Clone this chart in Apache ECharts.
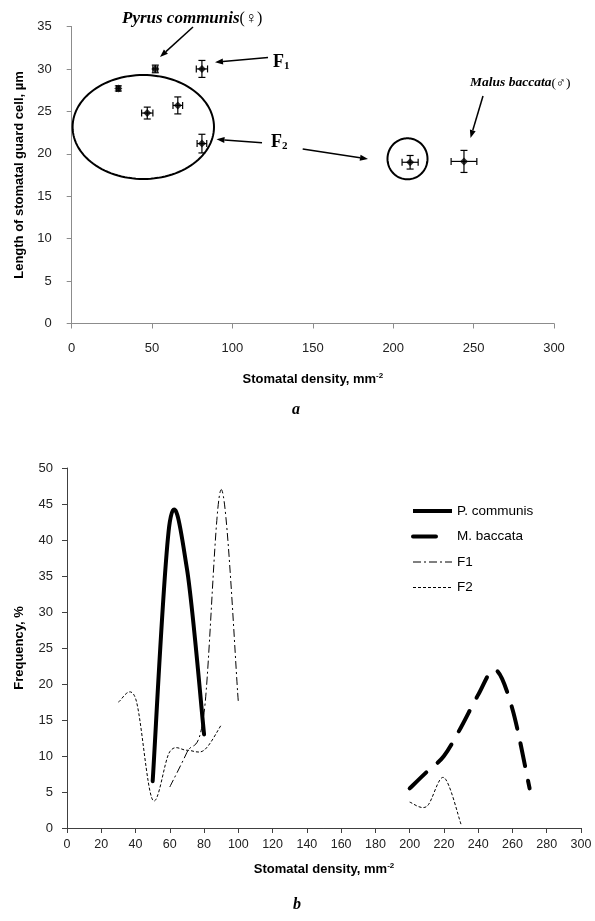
<!DOCTYPE html>
<html>
<head>
<meta charset="utf-8">
<script src="https://cdn.jsdelivr.net/npm/echarts@6/dist/echarts.min.js"></script>
<style>
html,body{margin:0;padding:0;background:#fff;}
#c{width:595px;height:921px;}
</style>
</head>
<body>
<div id="c"></div>
<script>
// ---- Panel a: stomatal density vs guard cell length (mean ± error) ----
const aDensity    = [52, 81, 29, 47, 66, 81, 210.5, 244];
const aLength     = [30.0, 30.0, 27.7, 24.8, 25.7, 21.2, 19.0, 19.1];
const aDensityErr = [1.5, 3.5, 1, 3.5, 3, 3, 5, 8];
const aLengthErr  = [0.45, 1.0, 0.3, 0.7, 1.0, 1.1, 0.8, 1.3];
const aXTicks = [0, 50, 100, 150, 200, 250, 300];
const aYTicks = [0, 5, 10, 15, 20, 25, 30, 35];

// ---- Panel b: frequency distributions ----
const bXTicks = [0,20,40,60,80,100,120,140,160,180,200,220,240,260,280,300];
const bYTicks = [0,5,10,15,20,25,30,35,40,45,50];
const pcDensity = [50, 60, 70, 80];
const pcFreq    = [6.5, 42.5, 36, 13];
const mbDensity = [200, 210, 220, 230, 240, 250, 260, 270];
const mbFreq    = [5.5, 7.8, 10, 14, 18.5, 22, 16.5, 5.5];
const f1Density = [60, 70, 80, 90, 100];
const f1Freq    = [5.7, 10.5, 16, 47, 17.5];
const f2DensityA = [30, 40, 50, 60, 70, 80, 90];
const f2FreqA    = [17.5, 18, 3.9, 10.6, 10.8, 10.8, 14.3];
const f2DensityB = [200, 210, 220, 230];
const f2FreqB    = [3.6, 3, 7, 0.5];
const legendNames = ['P. communis', 'M. baccata', 'F1', 'F2'];

const zip = (xs, ys) => xs.map((x, i) => [x, ys[i]]);
const errData = aDensity.map((x, i) => [x, aLength[i], aDensityErr[i], aLengthErr[i]]);

const SANS = 'Liberation Sans, Arial, sans-serif';
const SERIF = 'Liberation Serif, Times New Roman, serif';

const chart = echarts.init(document.getElementById('c'), null, {renderer: 'canvas'});

function axisCommon(color, margin, fs) {
  return {
    axisLine: {show: true, lineStyle: {color: color, width: 1}},
    axisTick: {show: true, inside: false, length: 5, lineStyle: {color: color}},
    splitLine: {show: false},
    axisLabel: {color: '#222', fontSize: fs, fontFamily: SANS, margin: margin}
  };
}

const titleRich = {
  n: {fontWeight: 'bold', fontSize: 13, fontFamily: SANS, color: '#000'},
  s: {fontWeight: 'bold', fontSize: 8, fontFamily: SANS, color: '#000', padding: [0, 0, 7, 0]}
};

// Excel-like smoothed curve (Catmull-Rom bezier) drawn through the axis scale
function smoothPath(pts) {
  let d = 'M' + pts[0][0] + ' ' + pts[0][1];
  for (let i = 0; i < pts.length - 1; i++) {
    const p0 = pts[i - 1] || pts[i], p1 = pts[i], p2 = pts[i + 1], p3 = pts[i + 2] || pts[i + 1];
    const c1 = [p1[0] + (p2[0] - p0[0]) / 6, p1[1] + (p2[1] - p0[1]) / 6];
    const c2 = [p2[0] - (p3[0] - p1[0]) / 6, p2[1] - (p3[1] - p1[1]) / 6];
    d += ' C' + c1[0] + ' ' + c1[1] + ' ' + c2[0] + ' ' + c2[1] + ' ' + p2[0] + ' ' + p2[1];
  }
  return d;
}
function curveSeries(name, segments, style) {
  const all = [];
  segments.forEach(s => s.forEach(p => all.push(p)));
  return {
    name: name, type: 'custom', xAxisIndex: 1, yAxisIndex: 1, data: all, silent: true,
    renderItem: function (params, api) {
      if (params.dataIndex !== 0) return null;
      const children = segments.map(seg => ({
        type: 'path',
        shape: {pathData: smoothPath(seg.map(p => api.coord(p)))},
        style: Object.assign({fill: 'none', stroke: '#000'}, style)
      }));
      return {type: 'group', children: children};
    }
  };
}

const lineStyles = {
  'P. communis': {lineWidth: 4, lineCap: 'round'},
  'M. baccata': {lineWidth: 4, lineDash: [23, 15], lineCap: 'round'},
  'F1': {lineWidth: 1, lineDash: [8, 3, 2, 3]},
  'F2': {lineWidth: 1, lineDash: [3, 2]}
};

const option = {
  animation: false,
  backgroundColor: '#fff',
  grid: [
    {left: 71.7, right: 41, top: 26.5, height: 297},
    {left: 67, right: 14, top: 468, height: 360}
  ],
  xAxis: [
    Object.assign(axisCommon('#8c8c8c', 18, 13), {
      gridIndex: 0, type: 'value', min: aXTicks[0], max: aXTicks[aXTicks.length - 1],
      interval: aXTicks[1] - aXTicks[0],
      name: '{n|Stomatal density, mm}{s|-2}', nameLocation: 'middle', nameGap: 48,
      nameTextStyle: {rich: titleRich}
    }),
    Object.assign(axisCommon('#404040', 10, 12.5), {
      gridIndex: 1, type: 'value', min: bXTicks[0], max: bXTicks[bXTicks.length - 1],
      interval: bXTicks[1] - bXTicks[0],
      name: '{n|Stomatal density, mm}{s|-2}', nameLocation: 'middle', nameGap: 34,
      nameTextStyle: {rich: titleRich}
    })
  ],
  yAxis: [
    Object.assign(axisCommon('#8c8c8c', 20, 13), {
      gridIndex: 0, type: 'value', min: aYTicks[0], max: aYTicks[aYTicks.length - 1],
      interval: aYTicks[1] - aYTicks[0],
      name: 'Length of stomatal guard cell, µm', nameLocation: 'middle', nameGap: 38,
      nameTextStyle: {fontWeight: 'bold', fontSize: 13, fontFamily: SANS, color: '#000'}
    }),
    Object.assign(axisCommon('#404040', 14, 13), {
      gridIndex: 1, type: 'value', min: bYTicks[0], max: bYTicks[bYTicks.length - 1],
      interval: bYTicks[1] - bYTicks[0],
      name: 'Frequency, %', nameLocation: 'middle', nameGap: 41,
      nameTextStyle: {fontWeight: 'bold', fontSize: 13, fontFamily: SANS, color: '#000'}
    })
  ],
  series: [
    {
      type: 'custom', xAxisIndex: 0, yAxisIndex: 0, data: errData, silent: true, z: 3,
      renderItem: function (params, api) {
        const x = api.value(0), y = api.value(1), ex = api.value(2), ey = api.value(3);
        const l = api.coord([x - ex, y]), r = api.coord([x + ex, y]);
        const t = api.coord([x, y + ey]), b = api.coord([x, y - ey]);
        const cap = 3.5;
        const st = {stroke: '#000', lineWidth: 1.2};
        return {type: 'group', children: [
          {type: 'line', shape: {x1: l[0], y1: l[1], x2: r[0], y2: r[1]}, style: st},
          {type: 'line', shape: {x1: l[0], y1: l[1] - cap, x2: l[0], y2: l[1] + cap}, style: st},
          {type: 'line', shape: {x1: r[0], y1: r[1] - cap, x2: r[0], y2: r[1] + cap}, style: st},
          {type: 'line', shape: {x1: t[0], y1: t[1], x2: b[0], y2: b[1]}, style: st},
          {type: 'line', shape: {x1: t[0] - cap, y1: t[1], x2: t[0] + cap, y2: t[1]}, style: st},
          {type: 'line', shape: {x1: b[0] - cap, y1: b[1], x2: b[0] + cap, y2: b[1]}, style: st}
        ]};
      }
    },
    {
      type: 'scatter', xAxisIndex: 0, yAxisIndex: 0, symbol: 'diamond', symbolSize: 8,
      itemStyle: {color: '#000'}, z: 4, data: zip(aDensity, aLength)
    },
    curveSeries('P. communis', [zip(pcDensity, pcFreq)], lineStyles['P. communis']),
    curveSeries('M. baccata', [zip(mbDensity, mbFreq)], lineStyles['M. baccata']),
    curveSeries('F1', [zip(f1Density, f1Freq)], lineStyles['F1']),
    curveSeries('F2', [zip(f2DensityA, f2FreqA), zip(f2DensityB, f2FreqB)], lineStyles['F2'])
  ]
};
chart.setOption(option);

// ---- annotations (ellipses, arrows, labels, legend) ----
function ellipsePts(cx, cy, rx, ry) {
  const pts = [];
  for (let i = 0; i < 120; i++) {
    const a = i / 120 * Math.PI * 2;
    pts.push([cx + rx * Math.cos(a), cy + ry * Math.sin(a)]);
  }
  return pts;
}
function arrow(x1, y1, x2, y2) {
  const ang = Math.atan2(y2 - y1, x2 - x1);
  const L = 8, W = 3;
  const bx = x2 - L * Math.cos(ang), by = y2 - L * Math.sin(ang);
  const px = -Math.sin(ang) * W, py = Math.cos(ang) * W;
  return [
    {type: 'line', shape: {x1: x1, y1: y1, x2: bx, y2: by}, style: {stroke: '#000', lineWidth: 1.5}},
    {type: 'polygon', shape: {points: [[x2, y2], [bx + px, by + py], [bx - px, by - py]]}, style: {fill: '#000'}}
  ];
}
const g = [];
g.push({type: 'polygon', shape: {points: ellipsePts(143.3, 127, 70.7, 52)}, style: {fill: 'none', stroke: '#000', lineWidth: 2}, z: 10});
g.push({type: 'polygon', shape: {points: ellipsePts(407.5, 158.8, 20, 20.5)}, style: {fill: 'none', stroke: '#000', lineWidth: 2}, z: 10});
arrow(193, 27, 160, 57).forEach(e => g.push(e));
arrow(268, 57.5, 215, 62.3).forEach(e => g.push(e));
arrow(262, 142.7, 216.5, 139.3).forEach(e => g.push(e));
arrow(302.7, 149, 368, 159).forEach(e => g.push(e));
arrow(483, 96, 470.5, 138).forEach(e => g.push(e));
g.push({type: 'text', x: 122, y: 19, style: {
  text: '{i|Pyrus communis}{n|(♀)}', verticalAlign: 'middle',
  rich: {i: {fontFamily: SERIF, fontStyle: 'italic', fontWeight: 'bold', fontSize: 17, fill: '#000'},
         n: {fontFamily: SERIF, fontSize: 16, fill: '#000'}}}});
g.push({type: 'text', x: 470, y: 83, style: {
  text: '{i|Malus baccata}{n|(♂)}', verticalAlign: 'middle',
  rich: {i: {fontFamily: SERIF, fontStyle: 'italic', fontWeight: 'bold', fontSize: 13.5, fill: '#000'},
         n: {fontFamily: SERIF, fontSize: 13.5, fill: '#000'}}}});
g.push({type: 'text', x: 273, y: 62, style: {
  text: '{f|F}{s|1}', verticalAlign: 'middle',
  rich: {f: {fontFamily: SERIF, fontWeight: 'bold', fontSize: 18, fill: '#000'},
         s: {fontFamily: SERIF, fontWeight: 'bold', fontSize: 11, fill: '#000', padding: [8, 0, 0, 0]}}}});
g.push({type: 'text', x: 271, y: 142, style: {
  text: '{f|F}{s|2}', verticalAlign: 'middle',
  rich: {f: {fontFamily: SERIF, fontWeight: 'bold', fontSize: 18, fill: '#000'},
         s: {fontFamily: SERIF, fontWeight: 'bold', fontSize: 11, fill: '#000', padding: [8, 0, 0, 0]}}}});
g.push({type: 'text', x: 296, y: 410, style: {text: 'a', align: 'center', verticalAlign: 'middle',
  fontFamily: SERIF, fontStyle: 'italic', fontWeight: 'bold', fontSize: 16, fill: '#000'}});
g.push({type: 'text', x: 297, y: 905, style: {text: 'b', align: 'center', verticalAlign: 'middle',
  fontFamily: SERIF, fontStyle: 'italic', fontWeight: 'bold', fontSize: 16, fill: '#000'}});
// legend
legendNames.forEach((name, i) => {
  const y = 511 + i * 25.5;
  const st = Object.assign({stroke: '#000'}, lineStyles[name]);
  if (name === 'P. communis') st.lineCap = 'butt';
  g.push({type: 'line', shape: {x1: 413, y1: y, x2: name === 'M. baccata' ? 437 : 452, y2: y}, style: st});
  g.push({type: 'text', x: 457, y: y, style: {text: name, verticalAlign: 'middle',
    fontFamily: SANS, fontSize: 13.5, fill: '#000'}});
});
chart.setOption({graphic: {elements: g}});
</script>
</body>
</html>
